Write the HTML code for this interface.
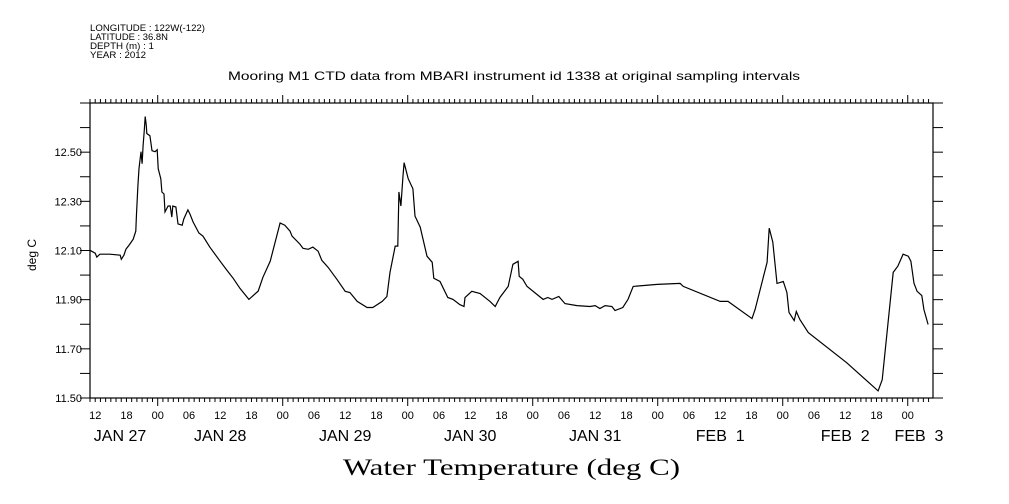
<!DOCTYPE html>
<html><head><meta charset="utf-8">
<style>
html,body{margin:0;padding:0;background:#fff;}
svg{display:block;font-family:"Liberation Sans",sans-serif;}
</style></head>
<body>
<svg id="chart" width="1009" height="504" viewBox="0 0 1009 504" xmlns="http://www.w3.org/2000/svg">
<g font-size="9" fill="#000">
<text x="90" y="31" textLength="115" lengthAdjust="spacingAndGlyphs">LONGITUDE : 122W(-122)</text>
<text x="90" y="40" textLength="78" lengthAdjust="spacingAndGlyphs">LATITUDE : 36.8N</text>
<text x="90" y="49" textLength="64" lengthAdjust="spacingAndGlyphs">DEPTH (m) : 1</text>
<text x="90" y="58" textLength="56" lengthAdjust="spacingAndGlyphs">YEAR : 2012</text>
</g>
<text x="228" y="80" textLength="572" lengthAdjust="spacingAndGlyphs" font-size="12">Mooring M1 CTD data from MBARI instrument id 1338 at original sampling intervals</text>
<text x="36" y="255" text-anchor="middle" font-size="12" transform="rotate(-90 36 255)">deg C</text>
<text x="343" y="475" textLength="337" lengthAdjust="spacingAndGlyphs" font-size="23" font-family="Liberation Serif, serif">Water Temperature (deg C)</text>
<rect x="90" y="103" width="843" height="295" fill="none" stroke="#000" stroke-width="1.2"/>
<g id="axes"></g>
<g id="series"></g>
</svg>
<script>
const hours=[11.0,12.0,12.3,12.9,14.8,16.8,17.0,17.5,17.9,18.5,19.3,19.8,19.9,20.2,20.4,20.8,21.0,21.2,21.4,21.6,21.8,21.9,22.5,22.9,23.5,23.9,24.1,24.6,24.8,25.2,25.4,26.0,26.4,26.7,26.9,27.5,27.9,28.7,29.0,29.8,30.2,30.8,31.9,32.7,34.0,36.0,37.3,38.5,39.8,41.5,43.3,44.2,45.6,47.5,48.4,49.4,49.8,51.3,51.9,52.9,53.8,54.8,55.5,56.7,58.4,60.0,60.9,62.3,64.2,65.3,67.1,68.0,68.6,69.6,70.1,70.3,70.7,71.1,71.3,72.1,73.0,73.4,74.4,75.7,76.7,77.0,78.2,79.7,80.7,82.0,82.8,83.0,84.3,85.9,87.8,88.8,89.7,91.3,92.2,93.2,93.4,94.1,94.9,98.0,98.9,99.7,101.0,102.2,104.5,107.0,108.0,108.9,109.9,111.2,111.8,113.3,114.3,115.3,119.9,124.3,124.9,132.0,133.5,138.1,138.7,141.0,141.4,142.1,142.9,144.1,144.8,145.2,146.2,146.6,147.3,148.9,156.3,162.3,163.1,165.2,166.1,167.1,168.1,168.6,169.2,169.8,170.7,171.1,171.9];
const temps=[12.101,12.089,12.073,12.085,12.085,12.081,12.064,12.081,12.105,12.122,12.146,12.179,12.240,12.363,12.433,12.502,12.453,12.527,12.584,12.645,12.608,12.576,12.567,12.506,12.502,12.510,12.433,12.392,12.338,12.330,12.257,12.281,12.281,12.236,12.281,12.277,12.208,12.203,12.228,12.265,12.248,12.216,12.171,12.158,12.114,12.056,12.019,11.987,11.946,11.901,11.935,11.991,12.056,12.212,12.203,12.179,12.158,12.126,12.109,12.105,12.114,12.097,12.060,12.032,11.983,11.934,11.929,11.893,11.868,11.868,11.893,11.913,12.011,12.118,12.118,12.338,12.281,12.404,12.457,12.392,12.351,12.240,12.195,12.077,12.052,11.987,11.974,11.909,11.901,11.880,11.872,11.909,11.934,11.925,11.893,11.872,11.909,11.954,12.044,12.056,11.995,11.983,11.954,11.901,11.909,11.901,11.913,11.884,11.876,11.872,11.876,11.864,11.876,11.872,11.856,11.868,11.901,11.954,11.962,11.966,11.954,11.893,11.893,11.823,11.860,12.052,12.191,12.134,11.966,11.974,11.929,11.848,11.815,11.852,11.819,11.766,11.643,11.529,11.574,12.011,12.036,12.085,12.077,12.056,11.966,11.934,11.917,11.860,11.799];
const yTicks=[11.5,11.6,11.7,11.8,11.9,12.0,12.1,12.2,12.3,12.4,12.5,12.6,12.7];
const yLabels=["11.50","11.70","11.90","12.10","12.30","12.50"];
const hourLabelHours=[12,18,24,30,36,42,48,54,60,66,72,78,84,90,96,102,108,114,120,126,132,138,144,150,156,162,168];
const dateLabels=["JAN 27","JAN 28","JAN 29","JAN 30","JAN 31","FEB  1","FEB  2","FEB  3"];

const X0=90,X1=933,Y0=398,Y1=103,HMIN=11,HMAX=172.85,VMIN=11.5,VMAX=12.7;
const xs=h=>X0+(h-HMIN)/(HMAX-HMIN)*(X1-X0);
const ys=v=>Y0-(v-VMIN)/(VMAX-VMIN)*(Y0-Y1);
const NS="http://www.w3.org/2000/svg";
const axes=document.getElementById('axes');
function mk(tag,attrs,parent){const e=document.createElementNS(NS,tag);for(const k in attrs)e.setAttribute(k,attrs[k]);parent.appendChild(e);return e;}

for(let h=11;h<=172;h++){
  const x=xs(h), major=(h%24===0), len=major?8:4;
  const t1=mk('line',{x1:x,x2:x,y1:Y1,y2:Y1-len,stroke:'#000','stroke-width':1},axes);
  
  
  const t2=mk('line',{x1:x,x2:x,y1:Y0,y2:Y0+len,stroke:'#000','stroke-width':1},axes);
  
  
}
yTicks.forEach(v=>{
  const y=ys(v);
  const a=mk('line',{x1:X0-10,x2:X0,y1:y,y2:y,stroke:'#000','stroke-width':1},axes);
  
  
  const b=mk('line',{x1:X1,x2:X1+10,y1:y,y2:y,stroke:'#000','stroke-width':1},axes);
  
  
});
yLabels.forEach(s=>{
  const t=mk('text',{x:X0-8,y:ys(parseFloat(s))+4,'text-anchor':'end','font-size':11},axes);
  t.textContent=s;
  
  
});
hourLabelHours.forEach(h=>{
  const t=mk('text',{x:xs(h),y:419,'text-anchor':'middle','font-size':11},axes);
  t.textContent=String(h%24).padStart(2,'0');
  
  
});
dateLabels.forEach((s,i)=>{
  let x=xs(i*24+12);
  x=Math.max(120,Math.min(919,x));
  const t=mk('text',{x:x,y:441,'text-anchor':'middle','font-size':16},axes);
  t.style.whiteSpace='pre';
  t.textContent=s;
  
  
});
const pts=hours.map((h,i)=>xs(h).toFixed(1)+','+ys(temps[i]).toFixed(1)).join(' ');
const line=mk('polyline',{points:pts,fill:'none',stroke:'#000','stroke-width':1.2},document.getElementById('series'));


</script>
</body></html>
